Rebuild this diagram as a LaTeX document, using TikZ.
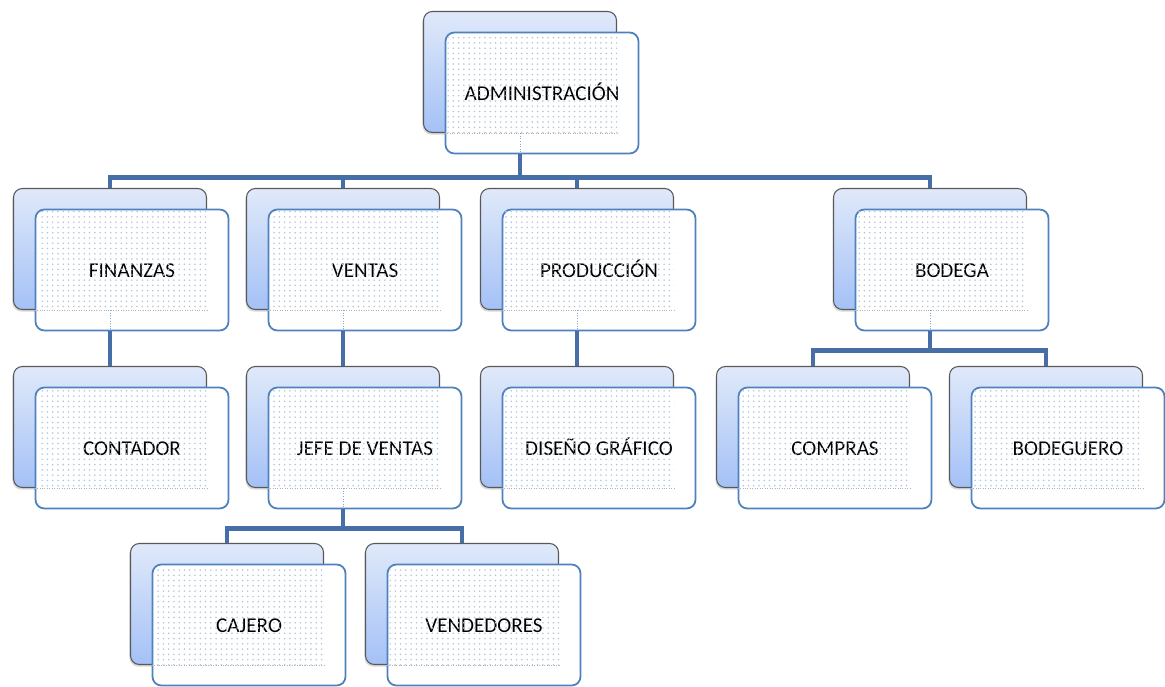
\documentclass[tikz,border=0pt]{standalone}
\usepackage{fontspec}
\setmainfont{Carlito}
\usetikzlibrary{patterns,shadows}
\definecolor{linkblue}{RGB}{71,111,167}
\definecolor{boxblue}{RGB}{79,129,189}
\definecolor{backtop}{RGB}{224,233,250}
\definecolor{backbot}{RGB}{164,193,246}

\begin{document}
\begin{tikzpicture}[x=0.02cm,y=-0.02cm,
    back/.style={rectangle,rounded corners=5pt,minimum width=3.86cm,minimum height=2.42cm,
      inner sep=0pt,draw=gray!70!black,line width=0.6pt,top color=backtop,bottom color=backbot,
      drop shadow={shadow xshift=-0.6pt,shadow yshift=-1.2pt,opacity=0.3}},
    front/.style={rectangle,rounded corners=5pt,minimum width=3.86cm,minimum height=2.42cm,
      inner sep=0pt,draw=boxblue,line width=1pt,fill=white,text height=2.1ex,text depth=0.2ex,
      font=\fontsize{12}{14}\selectfont},
    link/.style={draw=linkblue,line width=2.8pt},
    dotfill/.style={pattern=dots,pattern color=boxblue!45}]
  \useasboundingbox (0,0) rectangle (1165,686);

  % top
  \node[back] (adm-s) at (520,72){};
  \node[front] (adm) at (542,93){ADMINISTRACIÓN};

  % second row
  \node[back] (fin-s) at (110,249){};
  \node[front] (fin) at (132,270){FINANZAS};
  \node[back] (ven-s) at (343,249){};
  \node[front] (ven) at (365,270){VENTAS};
  \node[back] (pro-s) at (577,249){};
  \node[front] (pro) at (599,270){PRODUCCIÓN};
  \node[back] (bod-s) at (930,249){};
  \node[front] (bod) at (952,270){BODEGA};

  % third row
  \node[back] (con-s) at (110,427){};
  \node[front] (con) at (132,448){CONTADOR};
  \node[back] (jef-s) at (343,427){};
  \node[front] (jef) at (365,448){JEFE DE VENTAS};
  \node[back] (dis-s) at (577,427){};
  \node[front] (dis) at (599,448){DISEÑO GRÁFICO};
  \node[back] (com-s) at (813,427){};
  \node[front] (com) at (835,448){COMPRAS};
  \node[back] (bdg-s) at (1046,427){};
  \node[front] (bdg) at (1068,448){BODEGUERO};

  % bottom row
  \node[back] (caj-s) at (227,604){};
  \node[front] (caj) at (249,625){CAJERO};
  \node[back] (vnd-s) at (462,604){};
  \node[front] (vnd) at (484,625){VENDEDORES};

  % dotted overlap area
  \foreach \n in {adm,fin,ven,pro,bod,con,jef,dis,com,bdg,caj,vnd}{
    \fill[dotfill] ([shift={(3,3)}]\n.north west) rectangle (\n-s.south east);
    \draw[densely dotted,gray!60,line width=0.4pt] (\n.west |- \n-s.south) -- (\n-s.south east);
  }
  \foreach \n in {adm,fin,ven,pro,bod,jef}
    \draw[densely dotted,boxblue!70,line width=0.5pt] (\n-s.south) -- (\n.south -| \n-s.south);

  % connectors
  \draw[link] (adm.south -| adm-s.south) -- ++(0,23) coordinate (t1);
  \draw[link] (fin-s.north) |- (t1) -| (bod-s.north);
  \draw[link] (t1) -| (ven-s.north);
  \draw[link] (t1) -| (pro-s.north);
  \draw[link] (fin.south -| fin-s.south) -- (con-s.north);
  \draw[link] (ven.south -| ven-s.south) -- (jef-s.north);
  \draw[link] (pro.south -| pro-s.south) -- (dis-s.north);
  \draw[link] (bod.south -| bod-s.south) -- ++(0,19) coordinate (t2);
  \draw[link] (com-s.north) |- (t2) -| (bdg-s.north);
  \draw[link] (jef.south -| jef-s.south) -- ++(0,19) coordinate (t3);
  \draw[link] (caj-s.north) |- (t3) -| (vnd-s.north);
\end{tikzpicture}
\end{document}
